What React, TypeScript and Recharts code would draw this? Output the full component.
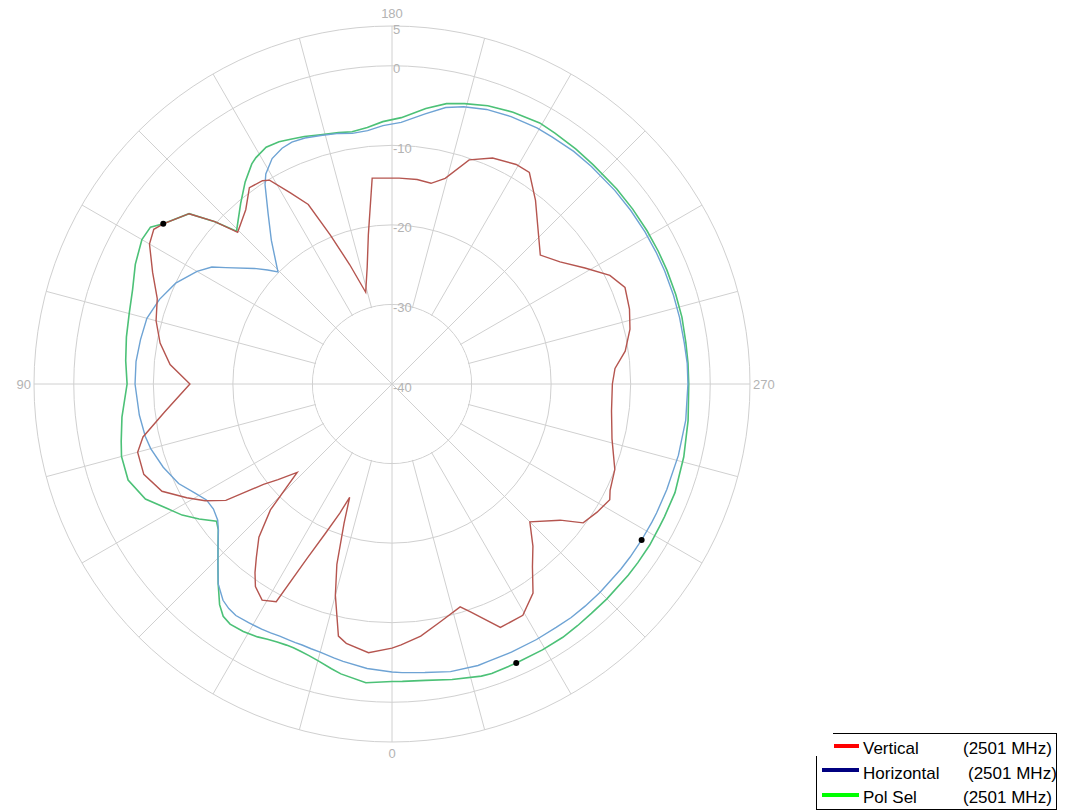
import React from 'react';
import { RadarChart, Radar, PolarGrid, PolarAngleAxis, PolarRadiusAxis, Customized } from 'recharts';

// ---- data (angle in degrees: 0 bottom, 90 left, 180 top, 270 right; values in dB) ----
const angles = [
  0, 5, 10, 12, 15, 17, 19, 20.5, 22, 24, 26, 28, 31, 34, 36, 38, 41, 44, 47, 50,
  52, 55, 58, 61, 65, 70, 75, 78, 83, 90, 95, 100, 105, 110, 115, 120, 123, 125, 130, 132.5,
  134.5, 140, 144, 147.5, 149, 152, 155, 157.5, 160.5, 164, 168, 171, 174.5, 178, 182, 187, 191, 194.5, 199, 204,
  209.5, 213, 218, 222.5, 229, 234, 239, 243.5, 247.5, 252.5, 257, 262, 266, 270, 277, 284, 291, 296, 298, 302,
  306, 309, 315, 319, 322.5, 326, 330.5, 336, 341, 343, 348.5, 353.5, 358,
];
const vertical = [
  -6.8, -6.1, -6.9, -7.6, -12.5, -16.3, -21.5, -24.8, -22.5, -19.5, -15.5, -9.0, -8.3, -9.3, -10.7, -12.3, -14.5, -18.0, -23.7, -21.3,
  -19.5, -14.5, -12.3, -10.5, -8.1, -6.8, -6.9, -8.0, -11.2, -14.6, -12.0, -10.4, -9.3, -8.6, -6.8, -4.8, -4.3, -4.9, -6.7, -9.8,
  -12.8, -11.4, -9.5, -9.7, -10.1, -12.8, -15.1, -19.7, -24.1, -28.0, -25.0, -21.0, -14.0, -14.1, -14.1, -14.1, -14.3, -13.3, -10.2, -8.9,
  -8.3, -8.3, -10.7, -12.9, -15.3, -13.9, -11.7, -9.4, -8.3, -8.7, -9.3, -10.4, -11.9, -12.3, -12.2, -11.5, -10.0, -9.5, -9.0, -9.6,
  -10.3, -12.8, -15.5, -13.0, -11.0, -8.3, -6.6, -6.5, -9.7, -10.7, -9.5, -8.1, -7.2,
];
const horizontal = [
  -3.8, -4.1, -4.6, -4.8, -5.1, -5.2, -5.3, -5.3, -5.3, -5.3, -5.2, -5.1, -5.0, -4.9, -5.1, -5.5, -6.7, -8.5, -10.1, -11.5,
  -12.2, -12.6, -12.5, -11.7, -10.4, -9.4, -8.6, -8.3, -8.0, -7.7, -7.7, -7.9, -8.1, -8.9, -10.0, -11.7, -13.0, -14.5, -17.4, -18.8,
  -19.9, -16.4, -13.5, -10.3, -9.2, -7.9, -7.3, -7.1, -7.2, -7.5, -7.8, -8.1, -8.0, -7.5, -7.1, -5.8, -4.6, -4.0, -3.5, -3.2,
  -3.0, -3.0, -2.9, -2.9, -2.9, -2.9, -2.9, -2.9, -2.9, -2.9, -2.9, -2.9, -2.8, -2.8, -2.8, -2.9, -3.0, -3.0, -3.0, -3.0,
  -3.0, -3.0, -3.0, -3.0, -3.0, -3.1, -3.1, -3.1, -3.1, -3.0, -3.1, -3.5, -3.7,
];
const polSel = [
  -2.6, -2.3, -3.0, -3.4, -4.0, -4.3, -4.5, -4.6, -4.6, -4.5, -4.3, -4.0, -3.7, -3.6, -3.9, -4.8, -6.7, -8.5, -10.1, -11.5,
  -12.0, -10.4, -8.9, -7.7, -5.8, -4.7, -4.8, -5.2, -5.8, -6.7, -6.4, -6.1, -5.8, -5.3, -4.4, -3.7, -3.8, -4.9, -6.7, -9.8,
  -12.6, -10.4, -8.6, -7.2, -6.8, -6.3, -6.4, -6.7, -7.0, -7.4, -7.7, -7.9, -7.6, -7.0, -6.5, -5.1, -4.1, -3.6, -3.0, -2.6,
  -2.3, -2.4, -2.5, -2.6, -2.6, -2.6, -2.6, -2.6, -2.6, -2.6, -2.6, -2.7, -2.7, -2.7, -2.5, -2.2, -1.9, -1.9, -1.9, -1.8,
  -1.8, -1.8, -1.8, -1.8, -1.7, -1.6, -1.6, -1.6, -1.5, -1.6, -2.1, -2.5, -2.6,
];
const angleTicks = [0, 90, 180, 270];
const radiusTicks = [-40, -30, -20, -10, 0, 5];
const radiusDomain = [-40, 5];
const markerV = [125];
const markerH = [302];
const markerP = [336];
const legendNames = ['Vertical', 'Horizontal', 'Pol Sel'];
const legendFreqs = ['(2501 MHz)', '(2501 MHz)', '(2501 MHz)'];
const legendColors = ['#ff0000', '#000080', '#00ff00'];

// ---- layout ----
const W = 1074;
const H = 811;
const CX = 392;
const CY = 384;
const R = 358;
const GRID = '#d0d0d0';
const LABEL = '#b3b3b3';
const FONT = '"Liberation Sans", Arial, sans-serif';

const data = angles.map((a, i) => ({ angle: a, V: vertical[i], H: horizontal[i], P: polSel[i] }));
const spokeAngles = Array.from({ length: 24 }, (_, i) => i * 15);

const AngleTick = (props: any) => {
  const { x, y, payload } = props;
  const v = payload.value;
  let tx = x;
  let ty = y;
  let anchor: 'middle' | 'start' | 'end' = 'middle';
  if (v === 180) {
    ty = y;
  } else if (v === 0) {
    ty = y + 8;
  } else if (v === 90) {
    tx = x + 5;
    ty = y + 5;
    anchor = 'end';
  } else {
    tx = x - 5;
    ty = y + 5;
    anchor = 'start';
  }
  return (
    <text x={tx} y={ty} textAnchor={anchor} fontSize={13} fill={LABEL} fontFamily={FONT}>
      {v}
    </text>
  );
};

const RadiusTick = (props: any) => {
  const { x, y, payload } = props;
  return (
    <text x={x + 1} y={y + 3} textAnchor="start" dominantBaseline="central" fontSize={13} fill={LABEL} fontFamily={FONT}>
      {payload.value}
    </text>
  );
};

const CenterStar = () => {
  const rIn = (R * (radiusTicks[1] - radiusDomain[0])) / (radiusDomain[1] - radiusDomain[0]);
  const lines = [0, 45, 90, 135].map((a) => {
    const rad = (a * Math.PI) / 180;
    return (
      <line
        key={a}
        x1={CX - rIn * Math.cos(rad)}
        y1={CY - rIn * Math.sin(rad)}
        x2={CX + rIn * Math.cos(rad)}
        y2={CY + rIn * Math.sin(rad)}
        stroke={GRID}
        strokeWidth={1}
      />
    );
  });
  return (
    <g>
      <circle cx={CX} cy={CY} r={rIn - 0.7} fill="#fff" stroke="none" />
      {lines}
    </g>
  );
};

const makeDot = (name: string, marks: number[]) => (p: any) => {
  const a = data[p.index]?.angle;
  if (!marks.includes(a)) return <g key={`d-${name}-${p.index}`} />;
  return <circle key={`d-${name}-${p.index}`} cx={p.cx} cy={p.cy} r={3} fill="#000" stroke="none" />;
};

const Legend = () => {
  const swX = [834, 822, 822];
  const swW = [25, 37, 37];
  const swY = [744, 768, 793];
  const baseY = [754, 779, 803];
  const freqX = [963, 968, 963];
  return (
    <svg width={W} height={H} style={{ position: 'absolute', left: 0, top: 0, pointerEvents: 'none' }}>
      <line x1={833} y1={733.5} x2={1057} y2={733.5} stroke="#000" strokeWidth={1} />
      <line x1={1056.5} y1={733} x2={1056.5} y2={810} stroke="#000" strokeWidth={1} />
      <line x1={816.5} y1={756} x2={816.5} y2={810} stroke="#000" strokeWidth={1} />
      <line x1={816} y1={809.5} x2={1057} y2={809.5} stroke="#000" strokeWidth={1} />
      {legendNames.map((n, i) => (
        <g key={n}>
          <rect x={swX[i]} y={swY[i]} width={swW[i]} height={4} fill={legendColors[i]} />
          <text x={863} y={baseY[i]} fontSize={17} fontFamily={FONT} fill="#000">
            {n}
          </text>
          <text x={freqX[i]} y={baseY[i]} fontSize={17} fontFamily={FONT} fill="#000">
            {legendFreqs[i]}
          </text>
        </g>
      ))}
    </svg>
  );
};

export default function App() {
  return (
    <div style={{ position: 'absolute', left: 0, top: 0, width: W, height: H, background: '#fff' }}>
      <RadarChart
        width={W}
        height={H}
        data={data}
        cx={CX}
        cy={CY}
        innerRadius={0}
        outerRadius={R}
        startAngle={270}
        endAngle={-90}
        margin={{ top: 0, right: 0, bottom: 0, left: 0 }}
      >
        <PolarGrid gridType="circle" polarAngles={spokeAngles} stroke={GRID} strokeWidth={1} />
        <Customized component={CenterStar} />
        <PolarAngleAxis
          dataKey="angle"
          type="number"
          domain={[0, 360]}
          ticks={angleTicks}
          axisLine={false}
          tickLine={false}
          tick={AngleTick}
        />
        <Radar dataKey="P" stroke="#4cc177" strokeWidth={1.6} fill="none" fillOpacity={0} isAnimationActive={false} dot={makeDot('P', markerP)} />
        <Radar dataKey="H" stroke="#6ea3d4" strokeWidth={1.4} fill="none" fillOpacity={0} isAnimationActive={false} dot={makeDot('H', markerH)} />
        <Radar dataKey="V" stroke="#b5554f" strokeWidth={1.4} fill="none" fillOpacity={0} isAnimationActive={false} dot={makeDot('V', markerV)} />
        <PolarRadiusAxis
          angle={90}
          type="number"
          domain={radiusDomain}
          ticks={radiusTicks}
          axisLine={false}
          tickLine={false}
          tick={RadiusTick}
        />
      </RadarChart>
      <Legend />
    </div>
  );
}
